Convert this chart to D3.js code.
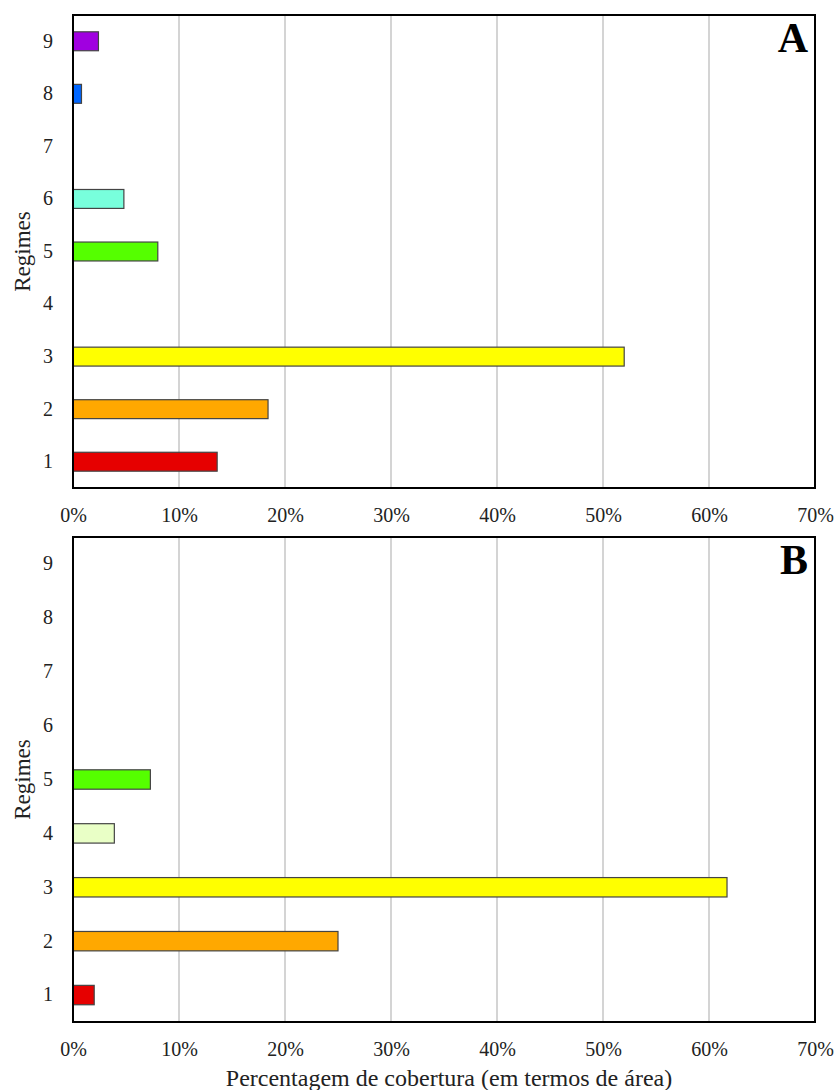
<!DOCTYPE html>
<html><head><meta charset="utf-8">
<script src="https://cdn.jsdelivr.net/npm/d3@7"></script>
<style>body{margin:0;background:#fff}svg{display:block}</style>
</head><body>
<svg id="c" width="837" height="1090"></svg>
<script>
const categories = ["1","2","3","4","5","6","7","8","9"];
const valuesA = [13.6, 18.4, 52.0, 0, 8.0, 4.8, 0, 0.8, 2.4];
const valuesB = [2.0, 25.0, 61.7, 3.9, 7.3, 0, 0, 0, 0];
const colorsA = ["#e60000","#ffa800","#ffff00","#e9ffc6","#55ff00","#78ffdc","#ffffff","#0066ff","#a000e0"];
const colorsB = ["#e60000","#ffa800","#ffff00","#e9ffc6","#55ff00","#78ffdc","#ffffff","#0066ff","#a000e0"];
const xTicks = [0,10,20,30,40,50,60,70];
const panelLabels = ["A","B"];
const yTitle = "Regimes";
const xTitle = "Percentagem de cobertura (em termos de área)";

const svg = d3.select("#c");
const font = "'Liberation Serif','Times New Roman',serif";
const left = 73, right = 815;
const x = d3.scaleLinear().domain([0,70]).range([left,right]);

function panel(top, bottom, values, colors, label) {
  const g = svg.append("g");
  const y = d3.scaleBand().domain(categories.slice().reverse()).range([top,bottom]).paddingInner(0.64).paddingOuter(0.32);
  g.selectAll(".grid").data(xTicks.slice(1,-1)).join("line")
    .attr("x1",d=>x(d)).attr("x2",d=>x(d)).attr("y1",top).attr("y2",bottom)
    .attr("stroke","#d4d4d4").attr("stroke-width",2);
  const data = categories.map((c,i)=>({c, v: values[i], col: colors[i]})).filter(d=>d.v>0);
  g.selectAll(".bar").data(data).join("rect")
    .attr("x",x(0)).attr("y",d=>y(d.c)).attr("width",d=>x(d.v)-x(0)).attr("height",y.bandwidth())
    .attr("fill",d=>d.col).attr("stroke","#444").attr("stroke-width",1.2);
  g.append("rect").attr("x",left).attr("y",top).attr("width",right-left).attr("height",bottom-top)
    .attr("fill","none").attr("stroke","#000").attr("stroke-width",2);
  const ya = g.append("g").attr("transform",`translate(${left},0)`)
    .call(d3.axisLeft(y).tickSize(0).tickPadding(20));
  ya.select(".domain").remove();
  ya.selectAll("text").attr("font-family",font).attr("font-size",20).attr("fill","#222");
  const xa = g.append("g").attr("transform",`translate(0,${bottom})`)
    .call(d3.axisBottom(x).tickValues(xTicks).tickSize(0).tickPadding(20).tickFormat(d=>d+"%"));
  xa.select(".domain").remove();
  xa.selectAll("text").attr("font-family",font).attr("font-size",20).attr("fill","#222");
  g.append("text").attr("transform",`translate(30,${(top+bottom)/2}) rotate(-90)`)
    .attr("text-anchor","middle").attr("font-family",font).attr("font-size",23).attr("fill","#222").text(yTitle);
  g.append("text").attr("x",right-7).attr("y",top+37).attr("text-anchor","end")
    .attr("font-family",font).attr("font-weight","bold").attr("font-size",42).attr("fill","#000").text(label);
}
panel(15, 488, valuesA, colorsA, panelLabels[0]);
panel(537, 1022, valuesB, colorsB, panelLabels[1]);
svg.append("text").attr("x",449).attr("y",1086).attr("text-anchor","middle")
  .attr("font-family",font).attr("font-size",24).attr("fill","#222").text(xTitle);
</script>
</body></html>
